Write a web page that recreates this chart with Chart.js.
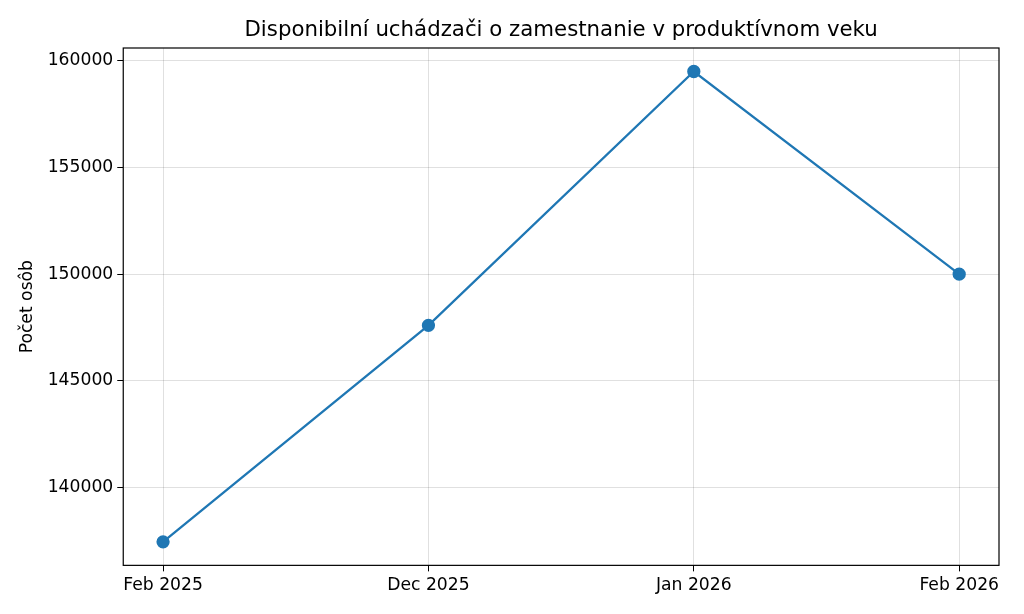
<!DOCTYPE html>
<html>
<head>
<meta charset="utf-8">
<script src="https://cdn.jsdelivr.net/npm/chart.js@4.4.1/dist/chart.umd.min.js"></script>
<style>
    html, body { margin: 0; padding: 0; background: #fff; }
    #wrap { width: 1024px; height: 614px; position: relative; }
</style>
</head>
<body>
<div id="wrap"><canvas id="lineChart"></canvas></div>
<script>
// Data
const months = ['Feb 2025', 'Dec 2025', 'Jan 2026', 'Feb 2026'];
const applicants = [137450, 147600, 159500, 150000];
const yTicks = [140000, 145000, 150000, 155000, 160000];

const titleText = 'Disponibilní uchádzači o zamestnanie v produktívnom veku';
const fontFamily = '"DejaVu Sans", sans-serif';
const tickSize = 17.2;

// matplotlib-like 5% margins around data
const yMin = Math.min(...applicants);
const yMax = Math.max(...applicants);
const yPad = (yMax - yMin) * 0.05;
const xPad = (months.length - 1) * 0.05;

// Frame around plot area + title centred over it
const framePlugin = {
    id: 'frame',
    afterDraw(chart) {
        const { ctx, chartArea: a } = chart;
        ctx.save();
        ctx.strokeStyle = '#000';
        ctx.lineWidth = 1.2;
        ctx.strokeRect(a.left, a.top, a.right - a.left, a.bottom - a.top);
        ctx.fillStyle = '#000';
        ctx.font = '21.3px ' + fontFamily;
        ctx.textAlign = 'center';
        ctx.textBaseline = 'bottom';
        ctx.fillText(titleText, (a.left + a.right) / 2, a.top - 7);
        ctx.restore();
    }
};

function initializeChart() {
    const ctx = document.getElementById('lineChart').getContext('2d');
    window.lineChart = new Chart(ctx, {
        type: 'line',
        data: {
            datasets: [{
                data: applicants.map((v, i) => ({ x: i, y: v })),
                borderColor: '#1f77b4',
                backgroundColor: '#1f77b4',
                borderWidth: 2.3,
                pointRadius: 5.5,
                pointHoverRadius: 5.5,
                tension: 0
            }]
        },
        options: {
            responsive: true,
            maintainAspectRatio: false,
            animation: false,
            layout: {
                padding: { top: 48, right: 25, bottom: 14, left: 17 }
            },
            plugins: {
                legend: { display: false },
                tooltip: { enabled: false }
            },
            scales: {
                x: {
                    type: 'linear',
                    min: -xPad,
                    max: months.length - 1 + xPad,
                    afterBuildTicks: axis => {
                        axis.ticks = months.map((m, i) => ({ value: i }));
                    },
                    ticks: {
                        color: '#000',
                        padding: 4,
                        maxRotation: 0,
                        font: { family: fontFamily, size: tickSize },
                        callback: v => months[v]
                    },
                    grid: {
                        color: 'rgba(0,0,0,0.12)',
                        tickColor: '#000',
                        tickLength: 6
                    },
                    border: { display: false }
                },
                y: {
                    min: yMin - yPad,
                    max: yMax + yPad,
                    afterBuildTicks: axis => {
                        axis.ticks = yTicks.map(v => ({ value: v }));
                    },
                    ticks: {
                        color: '#000',
                        padding: 4,
                        font: { family: fontFamily, size: tickSize },
                        callback: v => String(v)
                    },
                    title: {
                        display: true,
                        text: 'Počet osôb',
                        color: '#000',
                        font: { family: fontFamily, size: tickSize },
                        padding: { top: 0, bottom: 6 }
                    },
                    grid: {
                        color: 'rgba(0,0,0,0.12)',
                        tickColor: '#000',
                        tickLength: 6
                    },
                    border: { display: false }
                }
            }
        },
        plugins: [framePlugin]
    });
}

document.addEventListener('DOMContentLoaded', initializeChart);
</script>
</body>
</html>
